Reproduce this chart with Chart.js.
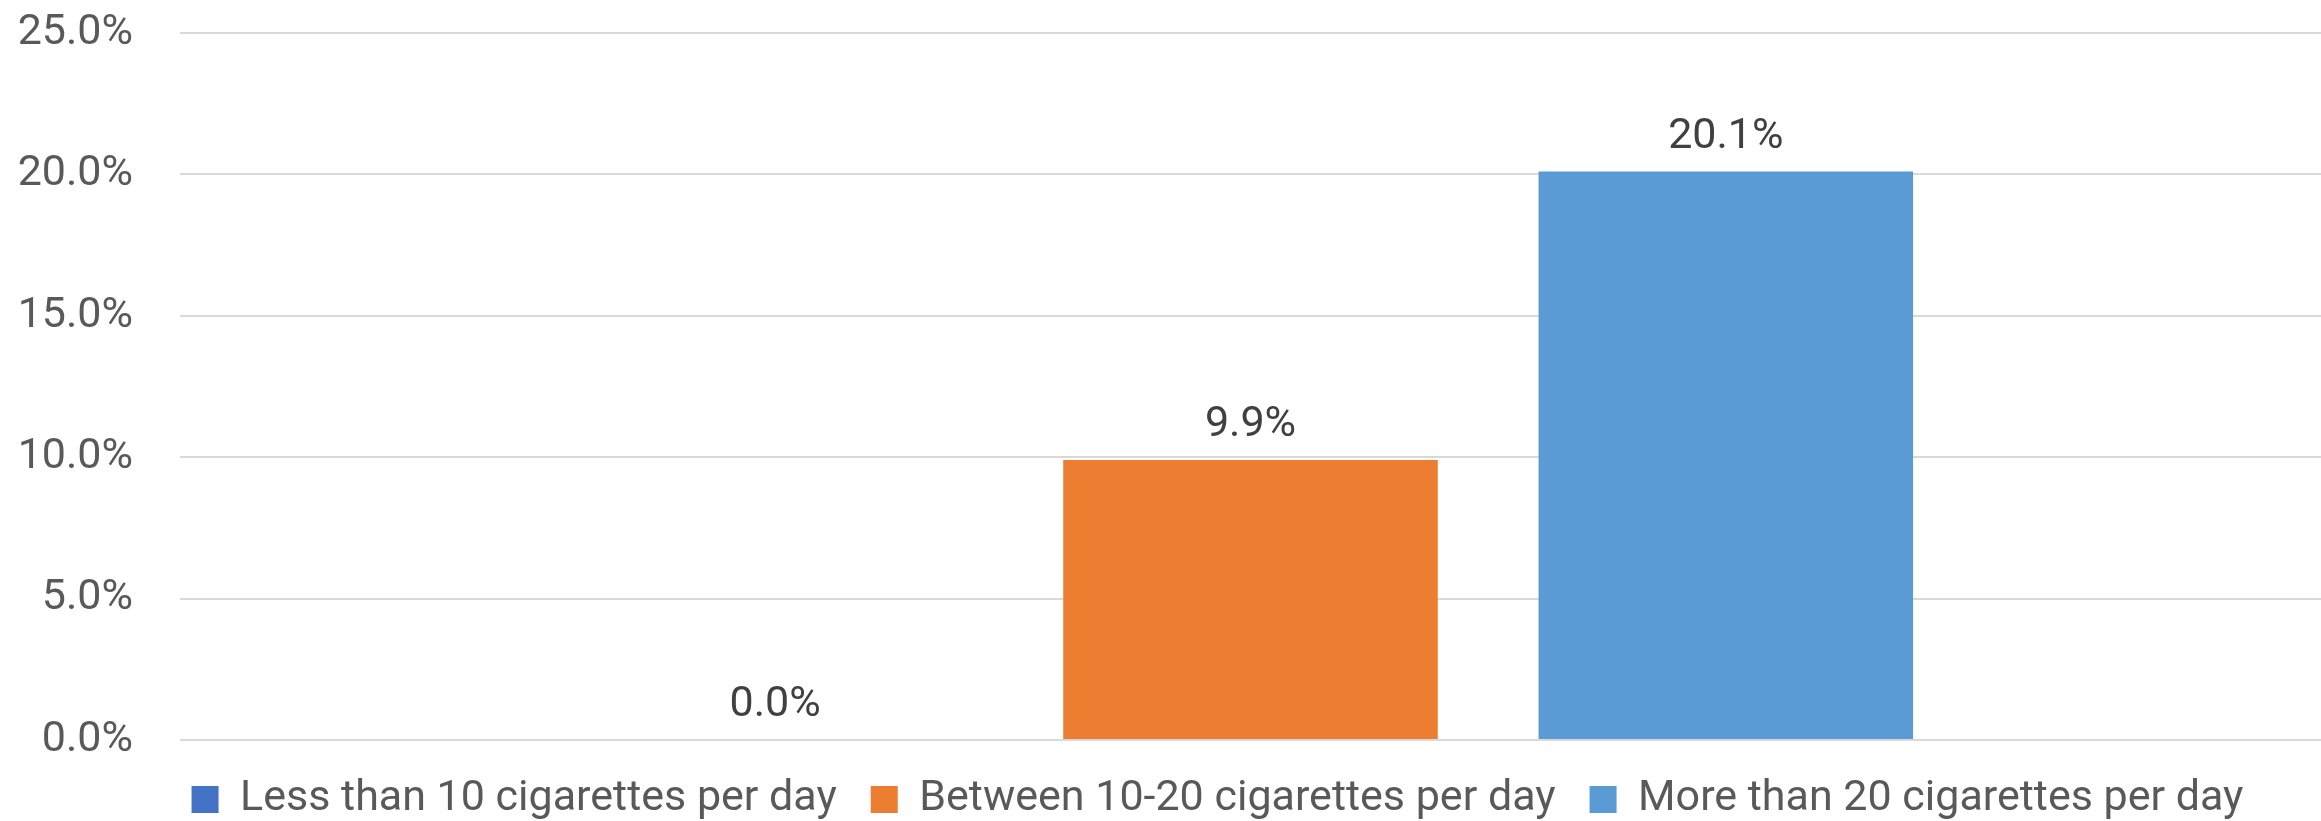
<!DOCTYPE html>
<html>
<head>
<meta charset="utf-8">
<script src="https://cdn.jsdelivr.net/npm/chart.js@4/dist/chart.umd.min.js"></script>
<style>
  html, body { margin: 0; padding: 0; background: #ffffff; }
  #wrap { width: 2321px; height: 821px; }
</style>
</head>
<body>
<div id="wrap"><canvas id="c" width="2321" height="821"></canvas></div>
<script>
const categories = ['Smoking intensity'];
const seriesNames = ['Less than 10 cigarettes per day', 'Between 10-20 cigarettes per day', 'More than 20 cigarettes per day'];
const lessThan10 = [0.0];
const between10and20 = [9.9];
const moreThan20 = [20.1];
const seriesColors = ['#4472C4', '#ED7D31', '#5B9BD5'];
const yTicks = [0, 5, 10, 15, 20, 25];

const FONT = 'Roboto';
const LEGEND_PAD = 34;
const LEGEND_HEIGHT = 77;
const LEGEND_SHIFT = -33;

const dataLabels = {
  id: 'dataLabels',
  beforeUpdate(chart) {
    const lg = chart.legend;
    if (lg && !lg._patchedFit) {
      const orig = lg.fit;
      lg.fit = function () {
        orig.call(this);
        this.height = LEGEND_HEIGHT;
      };
      lg._patchedFit = true;
    }
  },
  afterLayout(chart) {
    const lg = chart.legend;
    if (lg) {
      lg.left += LEGEND_SHIFT;
      lg.right += LEGEND_SHIFT;
    }
  },
  afterDatasetsDraw(chart) {
    const ctx = chart.ctx;
    ctx.save();
    ctx.font = '43px ' + FONT;
    ctx.fillStyle = '#404040';
    ctx.textAlign = 'center';
    ctx.textBaseline = 'alphabetic';
    chart.data.datasets.forEach((ds, i) => {
      const meta = chart.getDatasetMeta(i);
      meta.data.forEach((el, j) => {
        ctx.fillText(ds.data[j].toFixed(1) + '%', el.x, el.y - 24);
      });
    });
    ctx.restore();
  }
};

new Chart(document.getElementById('c'), {
  type: 'bar',
  data: {
    labels: categories,
    datasets: [
      { label: seriesNames[0], data: lessThan10, backgroundColor: seriesColors[0], borderWidth: 0 },
      { label: seriesNames[1], data: between10and20, backgroundColor: seriesColors[1], borderWidth: 0 },
      { label: seriesNames[2], data: moreThan20, backgroundColor: seriesColors[2], borderWidth: 0 }
    ]
  },
  options: {
    responsive: false,
    devicePixelRatio: 1,
    animation: false,
    categoryPercentage: 0.666,
    barPercentage: 0.788,
    layout: { padding: { top: 33, left: 0, right: -15, bottom: 0 } },
    plugins: {
      legend: {
        position: 'bottom',
        fullSize: false,
        labels: {
          boxWidth: 27,
          boxHeight: 27,
          padding: LEGEND_PAD,
          color: '#595959',
          font: { family: FONT, size: 43 }
        }
      },
      tooltip: { enabled: false }
    },
    scales: {
      x: {
        display: true,
        grid: { display: false },
        border: { display: false },
        ticks: { display: false },
        afterFit(scale) { scale.height = 4; }
      },
      y: {
        min: yTicks[0],
        max: yTicks[yTicks.length - 1],
        afterBuildTicks(scale) { scale.ticks = yTicks.map(v => ({ value: v })); },
        afterFit(scale) {
          scale.width = 180;
          scale.paddingTop = 0;
          scale.paddingBottom = 0;
        },
        grid: { color: '#d9d9d9', lineWidth: 2, drawTicks: false },
        border: { display: false },
        ticks: {
          padding: 47,
          color: '#595959',
          font: { family: FONT, size: 43 },
          callback: v => Number(v).toFixed(1) + '%'
        }
      }
    }
  },
  plugins: [dataLabels]
});
</script>
</body>
</html>
